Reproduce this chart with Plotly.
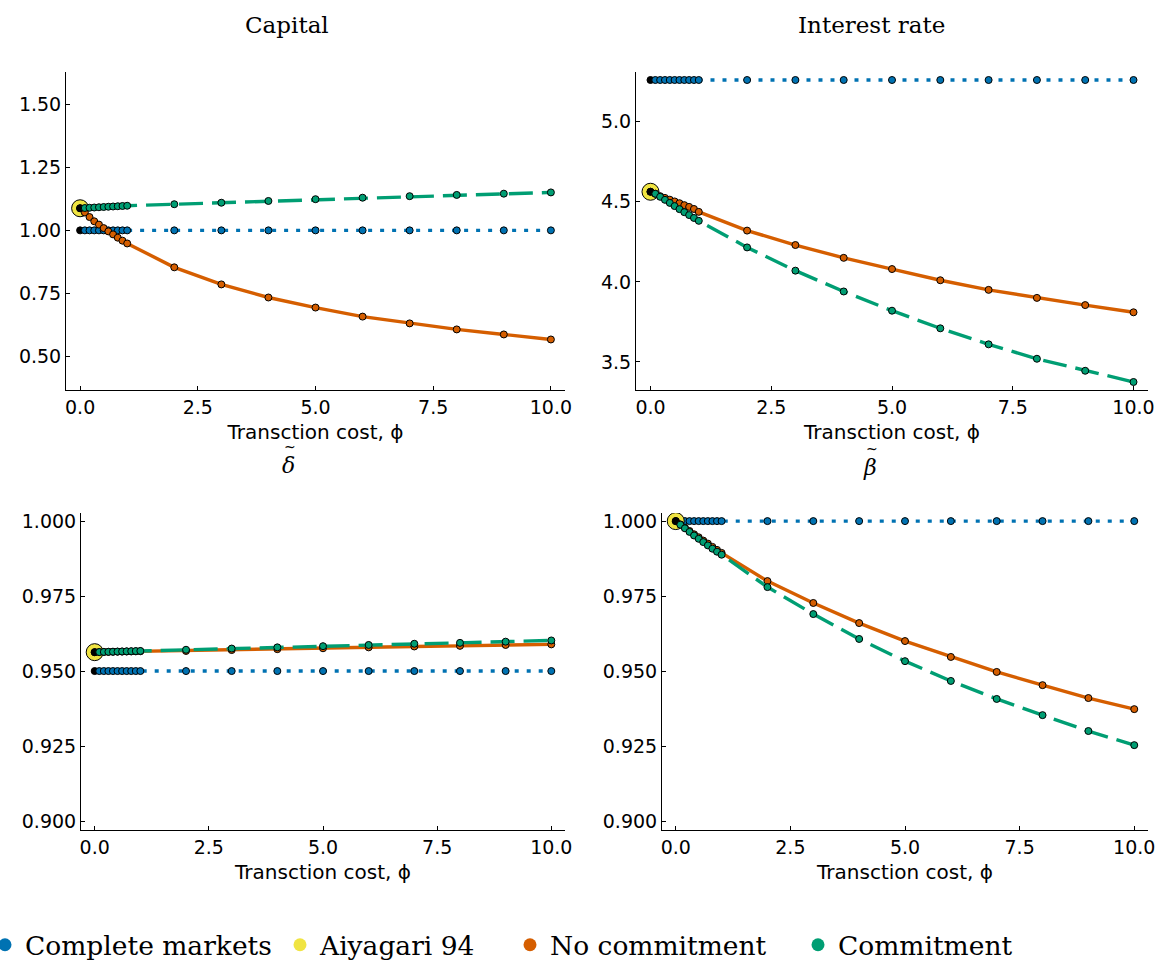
import plotly.graph_objects as go

# ---------------- data ----------------
phi = [0.0, 0.1, 0.2, 0.3, 0.4, 0.5, 0.6, 0.7, 0.8, 0.9, 1.0,
       2, 3, 4, 5, 6, 7, 8, 9, 10]

# Capital
cap_complete = [1.0] * 20
cap_aiyagari = [1.088]
cap_nocommit = [1.088, 1.071, 1.053, 1.036, 1.023, 1.009, 0.996, 0.984, 0.971, 0.959, 0.948,
                0.853, 0.785, 0.733, 0.693, 0.657, 0.630, 0.606, 0.586, 0.566]
cap_commit = [1.088, 1.089, 1.090, 1.091, 1.092, 1.093, 1.094, 1.095, 1.096, 1.097, 1.098,
              1.104, 1.110, 1.117, 1.124, 1.130, 1.136, 1.141, 1.146, 1.151]

# Interest rate
r_complete = [5.26] * 20
r_aiyagari = [4.5625]
r_nocommit = [4.5625, 4.550, 4.535, 4.524, 4.513, 4.502, 4.491, 4.479, 4.468, 4.455, 4.437,
              4.320, 4.230, 4.150, 4.080, 4.010, 3.950, 3.900, 3.855, 3.810]
r_commit = [4.5625, 4.550, 4.531, 4.512, 4.493, 4.473, 4.454, 4.435, 4.417, 4.399, 4.381,
            4.215, 4.070, 3.940, 3.820, 3.710, 3.610, 3.520, 3.445, 3.375]

# delta tilde
d_complete = [0.95] * 20
d_aiyagari = [0.9563]
d_nocommit = [0.9563, 0.95633, 0.95636, 0.95639, 0.95642, 0.95645, 0.95648, 0.95651, 0.95654, 0.95657, 0.9566,
              0.9567, 0.9570, 0.9573, 0.9576, 0.9579, 0.9582, 0.9584, 0.9587, 0.9589]
d_commit = [0.9563, 0.95634, 0.95638, 0.95642, 0.95646, 0.9565, 0.95654, 0.95658, 0.95662, 0.95666, 0.9567,
            0.9571, 0.9575, 0.9579, 0.9583, 0.9587, 0.9591, 0.9594, 0.9598, 0.9602]

# beta tilde
b_complete = [1.0] * 20
b_aiyagari = [1.0]
b_nocommit = [1.0, 0.9989, 0.9978, 0.9967, 0.9956, 0.9946, 0.9935, 0.9925, 0.9914, 0.9904, 0.9894,
              0.9800, 0.9727, 0.9660, 0.9600, 0.9547, 0.9497, 0.9453, 0.9410, 0.9373]
b_commit = [1.0, 0.9988, 0.9976, 0.9964, 0.9952, 0.9941, 0.9930, 0.9919, 0.9908, 0.9898, 0.9888,
            0.9780, 0.9690, 0.9607, 0.9533, 0.9467, 0.9407, 0.9353, 0.9300, 0.9253]

series_names = ["Complete markets", "Aiyagari 94", "No commitment", "Commitment"]
colors = ["#0072B2", "#F0E442", "#D55E00", "#009E73"]

panels = [
    (cap_complete, cap_aiyagari, cap_nocommit, cap_commit),
    (r_complete, r_aiyagari, r_nocommit, r_commit),
    (d_complete, d_aiyagari, d_nocommit, d_commit),
    (b_complete, b_aiyagari, b_nocommit, b_commit),
]

W, H = 1159, 960
def fx(p): return p / W
def fy(p): return 1 - p / H

SERIF = "DejaVu Serif"
SANS = "DejaVu Sans"

fig = go.Figure()

LW = 3.4
dashes = ["4px,8px", None, "solid", "24px,9px"]

for i, (cm, ai, nc, c) in enumerate(panels):
    xa = "x" if i == 0 else f"x{i+1}"
    ya = "y" if i == 0 else f"y{i+1}"
    for k, ys in enumerate([cm, ai, nc, c]):
        if k == 1:
            fig.add_trace(go.Scatter(
                x=[phi[0]], y=ys, mode="markers", xaxis=xa, yaxis=ya,
                marker=dict(size=17, color=colors[1], line=dict(color="black", width=1)),
                showlegend=False, hoverinfo="skip"))
            continue
        mcol = ["black"] + [colors[k]] * (len(phi) - 1)
        fig.add_trace(go.Scatter(
            x=phi, y=ys, mode="lines+markers", xaxis=xa, yaxis=ya,
            line=dict(color=colors[k], width=LW, dash=dashes[k]),
            marker=dict(size=7, color=mcol, line=dict(color="black", width=1)),
            showlegend=False, hoverinfo="skip"))

# legend entries: one legend per entry so each can be placed like the reference
legend_text_x = [27, 322, 552, 840]
legend_keys = ["legend", "legend2", "legend3", "legend4"]
for k in range(4):
    fig.add_trace(go.Scatter(
        x=[None], y=[None], mode="markers", name=series_names[k],
        marker=dict(size=13, color=colors[k]), showlegend=True,
        legend=legend_keys[k]))

tickfont = dict(family=SANS, size=19, color="black")

xdoms = [(66, 565), (636, 1148), (81, 565), (662, 1148)]
ydoms = [(72, 390), (72, 390), (513, 830), (513, 830)]
yranges = [(0.365, 1.63), (3.325, 5.31), (0.897, 1.0027), (0.897, 1.0027)]
ytickvals = [[0.5, 0.75, 1.0, 1.25, 1.5], [3.5, 4.0, 4.5, 5.0],
             [0.9, 0.925, 0.95, 0.975, 1.0], [0.9, 0.925, 0.95, 0.975, 1.0]]
yfmts = [".2f", ".1f", ".3f", ".3f"]

layout = {}
for i in range(4):
    xn = "xaxis" if i == 0 else f"xaxis{i+1}"
    yn = "yaxis" if i == 0 else f"yaxis{i+1}"
    xref = "x" if i == 0 else f"x{i+1}"
    yref = "y" if i == 0 else f"y{i+1}"
    layout[xn] = dict(
        domain=[fx(xdoms[i][0]), fx(xdoms[i][1])], anchor=yref,
        range=[-0.3, 10.3], tickvals=[0, 2.5, 5, 7.5, 10],
        ticktext=["0.0", "2.5", "5.0", "7.5", "10.0"],
        showgrid=False, zeroline=False, showline=True, linecolor="black", linewidth=1,
        ticks="inside", ticklen=4, tickcolor="black", tickfont=tickfont,
        ticklabeloverflow="allow",
        title=dict(text="Transction cost, ϕ", font=dict(family=SANS, size=20, color="black"), standoff=8),
    )
    layout[yn] = dict(
        domain=[fy(ydoms[i][1]), fy(ydoms[i][0])], anchor=xref,
        range=list(yranges[i]), tickvals=ytickvals[i], tickformat=yfmts[i],
        showgrid=False, zeroline=False, showline=True, linecolor="black", linewidth=1,
        ticks="inside", ticklen=4, tickcolor="black", tickfont=tickfont,
    )

annotations = []
for t, x, y in [("Capital", 287, 25), ("Interest rate", 871, 25)]:
    annotations.append(dict(text=t, x=fx(x), y=fy(y), xref="paper", yref="paper",
                            showarrow=False, xanchor="center", yanchor="middle",
                            font=dict(family=SERIF, size=23, color="black")))
# tilde-accented Greek titles (glyph + tilde placed above it)
for g, x, y in [("δ", 288, 465), ("β", 870, 467)]:
    annotations.append(dict(text=f"<i>{g}</i>", x=fx(x), y=fy(y), xref="paper", yref="paper",
                            showarrow=False, xanchor="center", yanchor="middle",
                            font=dict(family=SERIF, size=22, color="black")))
    annotations.append(dict(text="~", x=fx(x + 2), y=fy(y - 18), xref="paper", yref="paper",
                            showarrow=False, xanchor="center", yanchor="middle",
                            font=dict(family=SANS, size=14, color="black")))

legends = {}
for k in range(4):
    legends[legend_keys[k]] = dict(
        orientation="h", x=fx(legend_text_x[k] - 42), y=fy(945),
        xanchor="left", yanchor="middle",
        font=dict(family=SERIF, size=26.5, color="black"),
        itemwidth=30, bgcolor="rgba(0,0,0,0)", borderwidth=0)

fig.update_layout(
    width=W, height=H, margin=dict(l=0, r=0, t=0, b=0, autoexpand=False),
    plot_bgcolor="white", paper_bgcolor="white",
    annotations=annotations,
    **legends,
    **layout,
)

# remove the browser's default 8px page margin so the figure fills the window exactly
page_fix = ("document.body.style.margin='0';"
            "document.body.style.overflow='hidden';"
            "document.documentElement.style.overflow='hidden';")

fig.write_html("out.html", post_script=page_fix, config={"displayModeBar": False})
